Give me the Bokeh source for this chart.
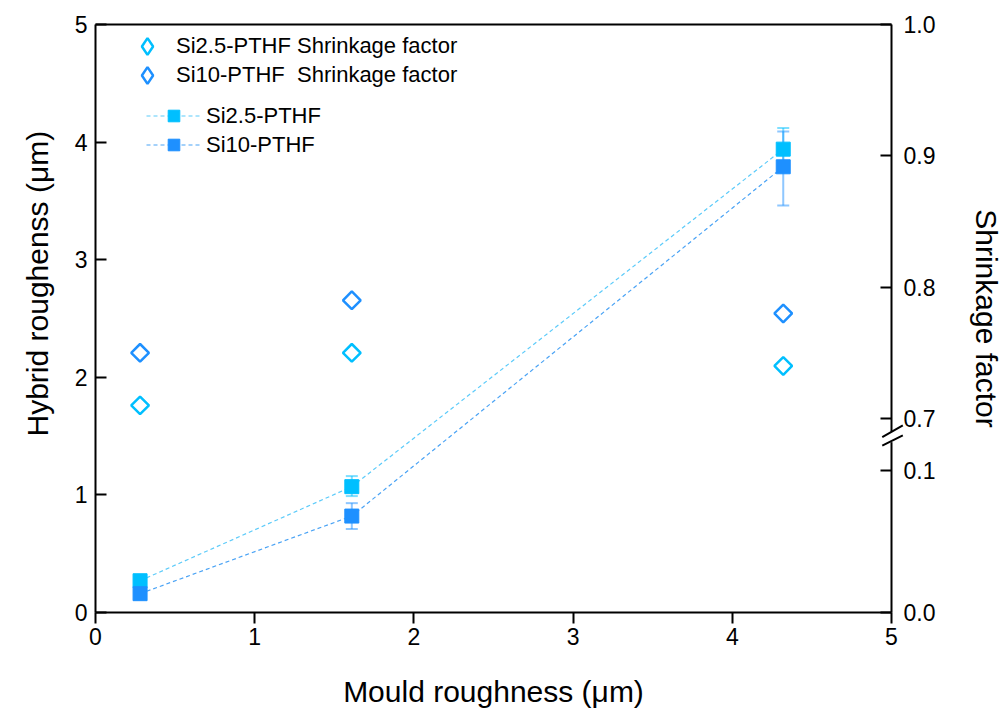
import math
from bokeh.plotting import figure
from bokeh.models import (Range1d, LinearAxis, FixedTicker, Legend, LegendItem,
                          ColumnDataSource, Title, CustomJSTickFormatter)
from bokeh.embed import file_html
from bokeh.resources import INLINE

# ---------------- data ----------------
mould = [0.28, 1.61, 4.32]
si25_rough = [0.27, 1.07, 3.94]
si25_err_lo = [0.0, 0.08, 0.18]
si25_err_hi = [0.0, 0.09, 0.18]
si10_rough = [0.16, 0.82, 3.79]
si10_err_lo = [0.0, 0.11, 0.33]
si10_err_hi = [0.0, 0.11, 0.30]
si25_shrink = [0.71, 0.75, 0.74]
si10_shrink = [0.75, 0.79, 0.78]
x_ticks = [0, 1, 2, 3, 4, 5]
left_ticks = [0, 1, 2, 3, 4, 5]
right_ticks_upper = [0.7, 0.8, 0.9, 1.0]
right_ticks_lower = [0.0, 0.1]

# broken right axis settings
S0, S1 = 0.5523, 1.0      # upper segment range (shrinkage factor)
L1 = 0.4141               # lower segment range end (0 .. L1)
BRK = 0.677               # break between the two segments (upper-range coords)

C25 = "#00BFFF"
C10 = "#1E90FF"
FONT = "Liberation Sans"

p = figure(width=1006, height=711, x_range=Range1d(0, 5), y_range=Range1d(0, 5),
           output_backend="svg", toolbar_location=None,
           min_border_left=94, min_border_right=114, min_border_top=24,
           min_border_bottom=99, x_axis_location=None, y_axis_location=None)
p.extra_y_ranges = {"shrink": Range1d(S0, S1),
                    # range used only by the legend glyphs (keeps them out of the frame)
                    "legend_only": Range1d(10, 11)}
p.xgrid.visible = False
p.ygrid.visible = False
p.outline_line_color = None
p.background_fill_color = "white"
p.border_fill_color = "white"


def style_axis(ax):
    ax.axis_line_width = 2
    ax.major_tick_line_width = 2
    ax.minor_tick_line_color = None
    ax.major_label_text_font = FONT
    ax.major_label_text_font_size = "23px"
    ax.major_label_text_color = "black"
    ax.axis_label_text_font = FONT
    ax.axis_label_text_font_size = "30px"
    ax.axis_label_text_font_style = "normal"
    ax.axis_label_text_color = "black"


xb = LinearAxis(ticker=FixedTicker(ticks=x_ticks), axis_label="Mould roughness (\u03bcm)")
style_axis(xb)
xb.major_tick_in = 0
xb.major_tick_out = 11
xb.major_label_standoff = 4
xb.axis_label_standoff = 27
p.add_layout(xb, "below")

yl = LinearAxis(ticker=FixedTicker(ticks=left_ticks))
style_axis(yl)
yl.major_tick_in = 11
yl.major_tick_out = 0
yl.major_label_standoff = 8
p.add_layout(yl, "left")

p.add_layout(Title(text="Hybrid roughenss (\u03bcm)", align="left", offset=176,
                   standoff=36, text_font=FONT, text_font_size="30px",
                   text_font_style="normal", text_color="black"), "left")

xt = LinearAxis(ticker=FixedTicker(ticks=[]))
style_axis(xt)
xt.major_tick_in = 0
xt.major_tick_out = 0
xt.major_label_text_font_size = "0px"
p.add_layout(xt, "above")

rticks = [S0 + v / L1 * (S1 - S0) for v in right_ticks_lower] + right_ticks_upper
fmt = CustomJSTickFormatter(args=dict(s0=S0, s1=S1, l1=L1, brk=BRK), code="""
if (tick >= brk) { return tick.toFixed(1); }
return ((tick - s0) / (s1 - s0) * l1).toFixed(1);
""")
yr = LinearAxis(y_range_name="shrink", ticker=FixedTicker(ticks=rticks),
                formatter=fmt, axis_label="Shrinkage factor")
style_axis(yr)
yr.major_tick_in = 11
yr.major_tick_out = 0
yr.major_label_standoff = 12
yr.axis_label_standoff = 32
p.add_layout(yr, "right")

# ---------------- data glyphs ----------------
src25 = ColumnDataSource(dict(x=mould, y=si25_rough,
                              lo=[v - e for v, e in zip(si25_rough, si25_err_lo)],
                              hi=[v + e for v, e in zip(si25_rough, si25_err_hi)],
                              s=si25_shrink))
src10 = ColumnDataSource(dict(x=mould, y=si10_rough,
                              lo=[v - e for v, e in zip(si10_rough, si10_err_lo)],
                              hi=[v + e for v, e in zip(si10_rough, si10_err_hi)],
                              s=si10_shrink))

l25 = p.line("x", "y", source=src25, line_color="#5CCBFA", line_width=1.2, line_dash="4 3")
l10 = p.line("x", "y", source=src10, line_color="#4AA3F5", line_width=1.2, line_dash="4 3")

for src, c in ((src25, C25), (src10, C10)):
    p.segment(x0="x", y0="lo", x1="x", y1="hi", source=src, line_color=c,
              line_alpha=0.5, line_width=2)
    p.scatter(x="x", y="lo", source=src, marker="dash", size=12, line_color=c,
              line_alpha=0.5, line_width=2)
    p.scatter(x="x", y="hi", source=src, marker="dash", size=12, line_color=c,
              line_alpha=0.5, line_width=2)

sq25 = p.scatter("x", "y", source=src25, marker="square", size=14,
                 fill_color=C25, line_color=C25)
sq10 = p.scatter("x", "y", source=src10, marker="square", size=14,
                 fill_color=C10, line_color=C10)

p.scatter("x", "s", source=src25, y_range_name="shrink", marker="square",
          angle=math.pi / 4, size=12.5, fill_color="white", line_color=C25,
          line_width=2.5)
p.scatter("x", "s", source=src10, y_range_name="shrink", marker="square",
          angle=math.pi / 4, size=12.5, fill_color="white", line_color=C10,
          line_width=2.5)
# legend glyphs: diamond markers on a range that keeps them out of the frame
dl25 = p.scatter("x", "s", source=src25, y_range_name="legend_only",
                 marker="diamond", fill_color="white", line_color=C25, line_width=2.5)
dl10 = p.scatter("x", "s", source=src10, y_range_name="legend_only",
                 marker="diamond", fill_color="white", line_color=C10, line_width=2.5)

# ---------------- axis break marks (drawn above the frame clip) ----------------
brk = ColumnDataSource(dict(x0=[4.942, 4.942], y0=[0.6858, 0.6794],
                            x1=[5.071, 5.071], y1=[0.6947, 0.6871]))
gap = ColumnDataSource(dict(x0=[5.0], y0=[0.6820], x1=[5.0], y1=[0.6900]))
p.segment("x0", "y0", "x1", "y1", source=gap, y_range_name="shrink",
          line_color="white", line_width=4, level="overlay")
p.segment("x0", "y0", "x1", "y1", source=brk, y_range_name="shrink",
          line_color="black", line_width=2, level="overlay")


# ---------------- legends ----------------
def legend(items, loc, gw, gh, standoff):
    lg = Legend(items=items, location=loc, padding=0, margin=0, spacing=0,
                label_height=29, glyph_height=gh, glyph_width=gw,
                label_standoff=standoff, border_line_color=None,
                background_fill_alpha=0, label_text_font=FONT,
                label_text_font_size="22px", label_text_color="black")
    p.add_layout(lg)


legend([LegendItem(label="Si2.5-PTHF Shrinkage factor", renderers=[dl25])],
       (31, 545), 42, 42, 8)
legend([LegendItem(label="Si10-PTHF  Shrinkage factor", renderers=[dl10])],
       (31, 516), 42, 42, 8)
legend([LegendItem(label="Si2.5-PTHF", renderers=[l25, sq25]),
        LegendItem(label="Si10-PTHF", renderers=[l10, sq10])],
       (51, 453), 55, 29, 5)

open("out.html", "w").write(file_html(p, INLINE))
